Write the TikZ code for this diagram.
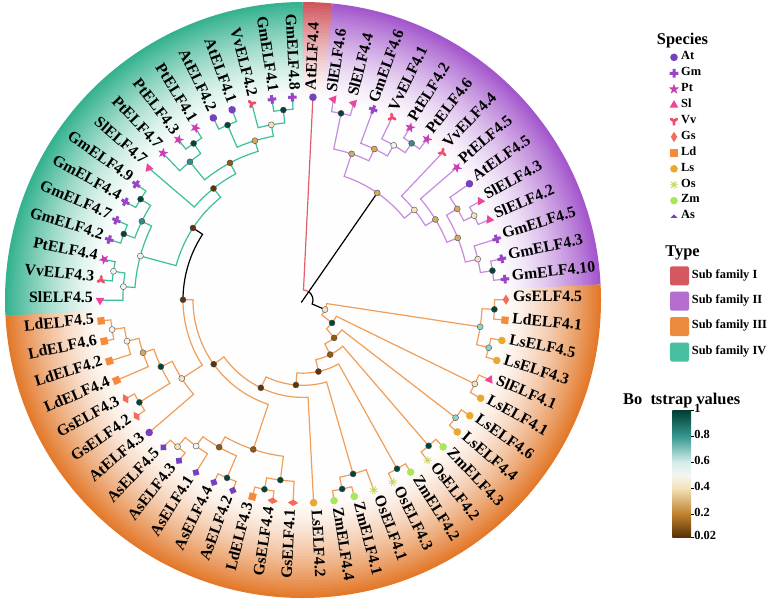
\documentclass[tikz,border=0pt]{standalone}
\usepackage{fontspec}
\setmainfont{Liberation Serif}
\usetikzlibrary{backgrounds}

% ring, branch and legend colours
\definecolor{ringR}{HTML}{D0565E}
\definecolor{ringP}{HTML}{A457CC}
\definecolor{ringO}{HTML}{E3792B}
\definecolor{ringG}{HTML}{35B28F}
\definecolor{brP}{HTML}{C68BE0}
\definecolor{brO}{HTML}{F09E58}
\definecolor{brG}{HTML}{3DBE9C}
\definecolor{brR}{HTML}{E05F6B}
\definecolor{tpR}{HTML}{D4585E}
\definecolor{tpP}{HTML}{B56ECF}
\definecolor{tpO}{HTML}{EC8A3E}
\definecolor{tpG}{HTML}{46C0A0}
% species
\definecolor{cAt}{HTML}{7642BC}
\definecolor{cGm}{HTML}{9A44C8}
\definecolor{cPt}{HTML}{C93FB3}
\definecolor{cSl}{HTML}{F0449A}
\definecolor{cVv}{HTML}{F24D6B}
\definecolor{cGs}{HTML}{F56B5B}
\definecolor{cLd}{HTML}{F58A3D}
\definecolor{cLs}{HTML}{E9A82E}
\definecolor{cOs}{HTML}{C9D65A}
\definecolor{cZm}{HTML}{A8E65C}
\definecolor{cAs}{HTML}{7440BF}
% bootstrap
\definecolor{bsD}{HTML}{01453A}
\definecolor{bsT}{HTML}{2F8F86}
\definecolor{bsL}{HTML}{8ED2C8}
\definecolor{bsW}{HTML}{EEF4F1}
\definecolor{bsC}{HTML}{F3E3BD}
\definecolor{bsN}{HTML}{D6AA5E}
\definecolor{bsB}{HTML}{94580F}
\definecolor{bsK}{HTML}{5E3509}
\definecolor{cb10}{HTML}{003C30}
\definecolor{cb08}{HTML}{35978F}
\definecolor{cb06}{HTML}{D4EEEA}
\definecolor{cb05}{HTML}{F5F5F2}
\definecolor{cb04}{HTML}{F2E2B8}
\definecolor{cb02}{HTML}{BF812D}
\definecolor{cb00}{HTML}{543005}

\newcommand\nodeat[3]{%
  \expandafter\xdef\csname ang@#1\endcsname{#2}%
  \expandafter\xdef\csname rad@#1\endcsname{#3}}
\newcommand\branch[3][]{%
  \edef\brA{\csname ang@#2\endcsname}%
  \edef\brB{\csname ang@#3\endcsname}%
  \edef\brR{\csname rad@#2\endcsname}%
  \draw[#1] (#2.center) arc[start angle=\brA, end angle=\brB, radius=\brR pt] -- (#3.center);}

\begin{document}
\begin{tikzpicture}[x=1pt, y=1pt,
  bs/.style={circle, draw=black!70, line width=0.4pt, inner sep=0pt, minimum size=6pt},
  lbl/.style={font=\fontsize{15.8}{17}\selectfont\bfseries, inner sep=0pt},
  lgt/.style={font=\fontsize{12.4}{14}\selectfont\bfseries, inner sep=0pt, anchor=mid west},
  ttl/.style={font=\fontsize{16.4}{18}\selectfont\bfseries, inner sep=0pt},
  eP/.style={draw=brP, line width=1.2pt},
  eO/.style={draw=brO, line width=1.2pt},
  eG/.style={draw=brG, line width=1.2pt},
  eR/.style={draw=brR, line width=1.2pt},
  eK/.style={draw=black, line width=1.2pt},
  mkAt/.pic={\fill[cAt] (0,0) circle (3.8pt);},
  mkLs/.pic={\fill[cLs] (0,0) circle (3.8pt);},
  mkZm/.pic={\fill[cZm] (0,0) circle (3.8pt);},
  mkGm/.pic={\fill[cGm] (-4.3pt,-1.5pt) rectangle (4.3pt,1.5pt) (-1.5pt,-4.3pt) rectangle (1.5pt,4.3pt);},
  mkPt/.pic={\fill[cPt] (90:5.4pt) \foreach \k in {1,...,4} {-- ({54+72*\k}:2.2pt) -- ({90+72*\k}:5.4pt)} -- (54:2.2pt) -- cycle;},
  mkSl/.pic={\fill[cSl] (90:5pt) -- (210:5pt) -- (330:5pt) -- cycle;},
  mkVv/.pic={\draw[cVv, line width=2.8pt, line cap=round] (0,0) -- (145:3.6pt) (0,0) -- (35:3.6pt) (0,0) -- (270:3.4pt);},
  mkGs/.pic={\fill[cGs] (0,5.2pt) -- (3.2pt,0) -- (0,-5.2pt) -- (-3.2pt,0) -- cycle;},
  mkLd/.pic={\fill[cLd] (-3.6pt,-3.6pt) rectangle (3.6pt,3.6pt);},
  mkOs/.pic={\draw[cOs, line width=0.8pt] (-4.2pt,0) -- (4.2pt,0) (0,-4.2pt) -- (0,4.2pt) (-3pt,-3pt) -- (3pt,3pt) (-3pt,3pt) -- (3pt,-3pt);},
  mkAs/.pic={\fill[cAs] (0,4pt) -- (4pt,0) -- (0,-4pt) -- (-4pt,0) -- cycle;},
  lgAs/.pic={\fill[cAs] (-3.6pt,-1.4pt) -- (3.6pt,-1.4pt) -- (0,2.2pt) -- cycle;}]

\path[use as bounding box] (-303,-305) rectangle (468,300);

% leaves, markers and labels
\foreach \spc/\nm [count=\i] in {At/4,Sl/6,Sl/4,Gm/6,Vv/1,Pt/2,Pt/6,Vv/4,Pt/5,At/5,Sl/3,Sl/2,Gm/5,Gm/3,Gm/10,Gs/5,Ld/1,Ls/5,Ls/3,Sl/1,Ls/1,Ls/6,Ls/4,Zm/3,Os/2,Zm/2,Os/3,Os/1,Zm/1,Zm/4,Ls/2,Gs/1,Gs/4,Ld/3,As/2,As/4,As/1,As/3,As/5,At/3,Gs/2,Gs/3,Ld/4,Ld/2,Ld/6,Ld/5,Sl/5,Vv/3,Pt/4,Gm/2,Gm/7,Gm/4,Gm/9,Sl/7,Pt/7,Pt/3,Pt/1,At/2,At/1,Vv/2,Gm/1,Gm/8}{
  \pgfmathsetmacro\la{93-5.80645*\i}
  \nodeat{\spc\nm}{\la}{203}
  \coordinate (\spc\nm) at (\la:203);
  \pic[rotate=\la] at (\spc\nm) {mk\spc};
  \ifdim\la pt<-90pt
    \pgfmathsetmacro\lr{\la+180}
    \node[lbl, rotate=\lr, anchor=mid east] (t\spc\nm) at (\la:210) {\spc ELF4.\nm};
  \else
    \node[lbl, rotate=\la, anchor=mid west] (t\spc\nm) at (\la:210) {\spc ELF4.\nm};
  \fi
}

% inner nodes: name/angle/radius/bootstrap colour
\foreach \nn/\na/\nr/\nc in {p1/78.484/190.5/bsD,p2/55.258/190.7/bsT,p3/59.613/179.3/bsW,p4/64.694/167/bsN,p5/71.589/154/bsN,
    p6/26.226/190.8/bsC,p7/30.581/179.2/bsN,p8/8.806/191.7/bsD,p9/13.161/179.5/bsC,p10/21.871/166.7/bsN,
    p11/31.306/155/bsN,p12/38.927/143.2/bsC,pr/55.258/130.3/bsN,
    o1/-2.806/191.6/bsD,o2/-14.419/191.8/bsL,o3/-8.613/179.2/bsL,o4/-26.032/191.2/bsC,o5/-37.645/192.7/bsL,
    o6/-49.258/192.5/bsD,o7/-60.871/193.2/bsD,o8/-78.290/193/bsD,o9/-73.935/181/bsD,o10/-101.516/193.2/bsD,
    o11/-97.161/181.5/bsD,o12/-113.129/193.4/bsD,o13/-130.548/193/bsC,o14/-126.194/181/bsW,o15/-119.661/169.4/bsB,
    o16/-108.411/157.5/bsB,o17/-171.194/193.2/bsW,o18/-166.839/180.7/bsW,o19/-161.758/168.4/bsN,o20/-147.968/193/bsD,
    o21/-154.863/157/bsD,o22/-147.061/144.4/bsC,
    nA/-180.131/120/bsK,nB/-144.271/110/bsK,n97/-115.636/97.4/bsK,n85/-94.786/85.3/bsK,n73/-77.829/73.2/bsK,
    n61/-63.544/61/bsB,n49/-50.594/49/bsB,n37/-38.313/37/bsD,r1/-23.463/24/bsC,
    g1/-264.097/191/bsD,g2/-259.742/178/bsC,g3/-246.677/190.5/bsD,g4/-253.210/166.4/bsN,g5/-235.065/191/bsD,
    g6/-230.710/178.6/bsT,g7/-241.960/155.3/bsB,g8/-231.254/143/bsK,g9/-211.839/191.2/bsD,g10/-200.226/191/bsD,
    g11/-206.032/179.3/bsT,g12/-188.613/191.7/bsW,g13/-184.258/180.1/bsW,g14/-195.145/168.5/bsW,g15/-213.200/131.5/bsK}{
  \nodeat{\nn}{\na}{\nr}
  \node[bs, fill=\nc] (\nn) at (\na:\nr) {};
}
\nodeat{rt}{55.258}{10}
\coordinate (rt) at (55.258:10);
\coordinate (stub) at (235.258:3);

\begin{scope}[on background layer]
  \fill[white] (-303,-305) rectangle (468,300);
  % coloured ring
  \foreach \k in {0,...,33}{
    \pgfmathsetmacro\rk{298-3*\k}
    \pgfmathsetmacro\pk{100*((34-\k)/34)^1.5}
    \foreach \qa/\qz/\qc in {90.097/84.29/ringR,84.29/3/ringP,3/-177/ringO,-177/-269.903/ringG}
      \fill[\qc!\pk!white] (0,0) -- (\qa:\rk) arc[start angle=\qa, end angle=\qz, radius=\rk pt] -- cycle;
  }
  % branches
  \foreach \pa/\ch in {p1/Sl6,p1/Sl4,p2/Pt2,p2/Pt6,p3/Vv1,p3/p2,p4/Gm6,p4/p3,p5/p1,p5/p4,p6/Sl3,p6/Sl2,p7/At5,p7/p6,
      p8/Gm3,p8/Gm10,p9/Gm5,p9/p8,p10/p7,p10/p9,p11/Pt5,p11/p10,p12/Vv4,p12/p11,pr/p5,pr/p12}
    \branch[eP]{\pa}{\ch};
  \foreach \pa/\ch in {o1/Gs5,o1/Ld1,o2/Ls5,o2/Ls3,o3/o1,o3/o2,o4/Sl1,o4/Ls1,o5/Ls6,o5/Ls4,o6/Zm3,o6/Os2,o7/Zm2,o7/Os3,
      o8/Zm1,o8/Zm4,o9/Os1,o9/o8,o10/Gs4,o10/Ld3,o11/Gs1,o11/o10,o12/As2,o12/As4,o13/As3,o13/As5,o14/As1,o14/o13,
      o15/o12,o15/o14,o16/o11,o16/o15,o17/Ld5,o17/Ld6,o18/o17,o18/Ld2,o19/o18,o19/Ld4,o20/Gs3,o20/Gs2,o21/o19,o21/o20,
      o22/o21,o22/At3,nA/o22,nB/nA,nB/o16,n97/nB,n97/Ls2,n85/n97,n85/o9,n73/n85,n73/o7,n61/n73,n61/o6,n49/n61,n49/o5,
      n37/n49,n37/o4,r1/n37,r1/o3}
    \branch[eO]{\pa}{\ch};
  \foreach \pa/\ch in {g1/Gm1,g1/Gm8,g2/Vv2,g2/g1,g3/At2,g3/At1,g4/g3,g4/g2,g5/Pt3,g5/Pt1,g6/Pt7,g6/g5,g7/g6,g7/g4,
      g8/Sl7,g8/g7,g9/Gm4,g9/Gm9,g10/Gm2,g10/Gm7,g11/g10,g11/g9,g12/Vv3,g12/Pt4,g13/Sl5,g13/g12,g14/g13,g14/g11,
      g15/g14,g15/g8}
    \branch[eG]{\pa}{\ch};
  \branch[eK]{nA}{g15};
  \branch[eK]{rt}{r1};
  \branch[eR]{rt}{At4};
  \draw[eK] (stub) -- (pr.center);
\end{scope}

% species legend
\node[ttl] (spttl) at (379.5,259) {Species};
\foreach \spc [count=\j] in {At,Gm,Pt,Sl,Vv,Gs,Ld,Ls,Os,Zm}{
  \pgfmathsetmacro\yy{258.6-15.93*\j}
  \pic at (371,\yy) {mk\spc};
  \node[lgt] (lg\spc) at (378,\yy) {\spc};
}
\pic at (371,83.4) {lgAs};
\node[lgt] (lgAs) at (378,83.4) {As};

% type legend
\node[ttl] (tyttl) at (379.5,47.5) {Type};
\foreach \tn/\tcol [count=\j] in {I/tpR,II/tpP,III/tpO,IV/tpG}{
  \pgfmathsetmacro\yy{49.6-25.4*\j}
  \fill[\tcol, rounded corners=1.5pt] (367,\yy-9.5) rectangle (386,\yy+9.5);
  \node[lgt] (ty\j) at (388.7,\yy) {Sub family \tn};
}

% bootstrap colour bar
\node[ttl] (bsttl) at (378.7,-101) {Bo\phantom{o}tstrap values};
\foreach \ya/\yb/\ca/\cz in {-110/-136.06/cb10/cb08,-136.06/-162.12/cb08/cb06,-162.12/-175.15/cb06/cb05,
    -175.15/-188.18/cb05/cb04,-188.18/-214.24/cb04/cb02,-214.24/-237.7/cb02/cb00}
  \shade[top color=\ca, bottom color=\cz] (369.3,\yb) rectangle (388,\ya);
\foreach \bv [count=\j] in {1,0.8,0.6,0.4,0.2,0.02}{
  \pgfmathsetmacro\yy{-110-(1-\bv)*130.3}
  \draw[line width=0.6pt] (388,\yy) -- (390.5,\yy);
  \node[lgt] (tk\j) at (391.2,\yy) {\bv};
}
\end{tikzpicture}
\end{document}
